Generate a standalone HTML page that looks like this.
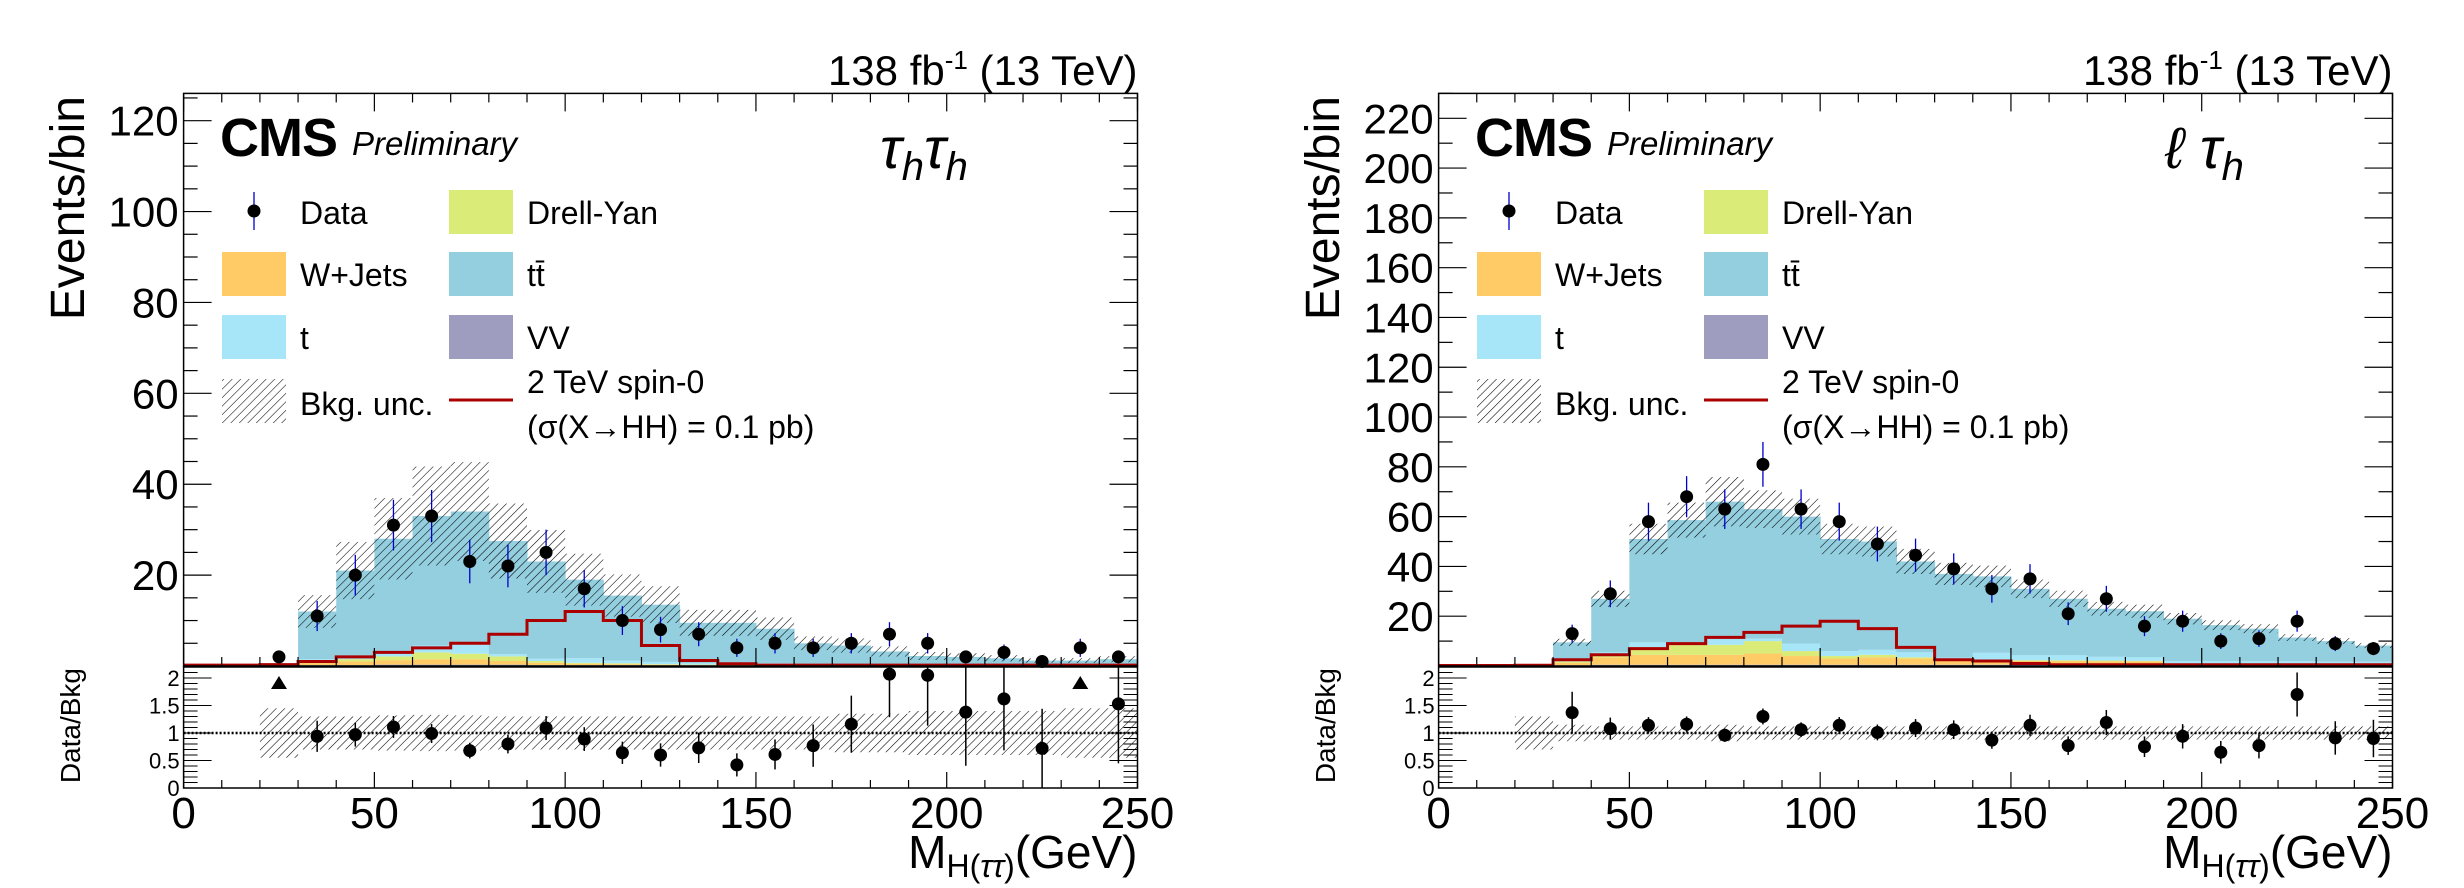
<!DOCTYPE html>
<html><head><meta charset="utf-8"><style>
html,body{margin:0;padding:0;background:#fff}
svg{display:block;font-family:"Liberation Sans",sans-serif}
</style></head><body>
<svg id="chart" width="2464" height="888" viewBox="0 0 2464 888" xmlns="http://www.w3.org/2000/svg">
<defs>
<pattern id="hatch" patternUnits="userSpaceOnUse" width="6" height="6" patternTransform="rotate(45)">
<line x1="0" y1="0" x2="0" y2="6" stroke="#000" stroke-width="1.1"/>
</pattern>
</defs>
</svg>
<script>
// ---- data: tau_h tau_h channel (bins 0-250, width 10) ----
const binEdgesStep = 10;
const L_data = [0,0,2,11,20,31,33,23,22,25,17,10,8,7,4,5,4,5,7,5,2,3,1,4,2];
const L_vv = [0,0,0.1,0.2,0.2,0.3,0.3,0.3,0.3,0.2,0.2,0.2,0.1,0.1,0.1,0.1,0.1,0.1,0.1,0.1,0.1,0.1,0.1,0.1,0.1];
const L_wj = [0,0,0.1,0.5,0.8,1.0,1.2,1.2,0.8,0.5,0.3,0.2,0.2,0.1,0.1,0.1,0.1,0.1,0,0,0,0,0,0,0];
const L_dy = [0,0,0.1,0.3,0.5,0.8,1.5,1.2,1.0,0.4,0.2,0.2,0.1,0.1,0.1,0.1,0,0,0,0,0,0,0,0,0];
const L_t = [0,0,0,0.5,0.7,1.0,1.5,2.0,0.5,0.5,1.0,0.6,0.5,0.3,0.3,0.3,0.3,0.2,0.2,0.2,0.2,0.2,0.1,0.1,0.1];
const L_tt = [0,0,0,10.5,18.8,24.9,28.5,29.3,24.9,21.4,17.3,14.3,12.6,8.9,8.9,7.6,4.5,4.1,2.9,1.9,1.7,1.4,1.0,1.0,1.3];
const L_unc = [0,0,0.45,0.3,0.3,0.32,0.33,0.32,0.3,0.3,0.3,0.3,0.3,0.3,0.3,0.3,0.3,0.35,0.35,0.4,0.4,0.4,0.4,0.45,0.45];
const L_sig = [0.2,0.2,0.3,1,2,3,4,5,7,10,12,10,4.5,1.2,0.5,0.2,0.2,0.2,0.2,0.2,0.2,0.2,0.2,0.2,0.2];
const L_ratio = [0,0,6.7,0.94,0.97,1.11,0.99,0.68,0.8,1.09,0.89,0.64,0.6,0.73,0.42,0.61,0.77,1.16,2.07,2.05,1.38,1.62,0.72,3.3,1.53];
const L_yticks = [20,40,60,80,100,120];
// ---- data: l tau_h channel ----
const R_data = [0,0,0,13,29,58,68,63,81,63,58,49,44.5,39,31,35,21,27,16,18,10,11,18,9,7];
const R_vv = [0,0,0.1,0.3,0.5,0.5,0.5,0.5,0.5,0.5,0.5,0.5,0.5,0.5,0.5,0.5,0.5,0.4,0.4,0.3,0.3,0.3,0.3,0.3,0.3];
const R_wj = [0,0,0.2,1,3,4,4,4,4.5,3.5,2.5,3,2.5,1.5,1.5,1.5,1.5,1.5,1.5,0.5,0.5,0.5,0.5,0.5,0.5];
const R_dy = [0,0,0.1,0.5,1,3,4,4,5,2,1,1,0.5,0.3,0.3,0.3,0.3,0.3,0.2,0.2,0.2,0.1,0.1,0.1,0.1];
const R_t = [0,0,0.1,0.5,1,2,1,3,1,3,2,2,2,1,3,2,2,1.5,1.5,1,1,1,1,0.8,0.8];
const R_tt = [0,0,0,7.2,21.5,41.5,49.1,54.5,52,51,45,43.5,36.5,33.7,30.7,26.7,22.7,19.3,18.4,17,14.4,13.1,9.5,8.3,6.5];
const R_unc = [0,0,0.3,0.15,0.12,0.12,0.12,0.15,0.12,0.12,0.12,0.12,0.12,0.12,0.12,0.12,0.12,0.12,0.12,0.12,0.12,0.12,0.12,0.12,0.12];
const R_sig = [0.2,0.2,0.3,2.5,4.5,7,9,11.5,13.5,16,18,15,7.5,2.5,2,1,0.5,0.5,0.5,0.5,0.5,0.5,0.5,0.5,0.5];
const R_ratio = [0,0,0,1.37,1.08,1.14,1.16,0.96,1.3,1.06,1.14,1.01,1.09,1.06,0.87,1.14,0.77,1.19,0.75,0.94,0.65,0.77,1.7,0.91,0.9];
const R_yticks = [20,40,60,80,100,120,140,160,180,200,220];
const xTicks = [0,50,100,150,200,250];
const ratioTicks = [0,0.5,1,1.5,2];
const ratioTickLabels = ["0","0.5","1","1.5","2"];

const NS = "http://www.w3.org/2000/svg";
const svg = document.getElementById('chart');
function mk(tag, attrs, parent, text){
  const e = document.createElementNS(NS, tag);
  for (const k in attrs) e.setAttribute(k, attrs[k]);
  if (text !== undefined) e.textContent = text;
  (parent||svg).appendChild(e);
  return e;
}
const COL = {vv:"#9f9dbf", wj:"#fecb66", dy:"#dbeb78", t:"#a6e6f8", tt:"#94cfe0"};

function panel(ox, cfg){
  const g = mk('g', {});
  
  
  const X0 = ox + 183.6, X1 = ox + 1137.5, YT = 93.4, YB = 666, RT = 667, RB = 788;
  const xs = v => X0 + (v/250)*(X1-X0);
  const ys = v => YB - v*(YB-YT)/cfg.ymax;
  const rs = v => RB - v*(RB-RT)/2.2;
  const n = cfg.data.length;
  const comps = [["vv",cfg.vv],["wj",cfg.wj],["dy",cfg.dy],["t",cfg.t],["tt",cfg.tt]];
  for (let i=0;i<n;i++){
    let cum = 0;
    for (const [k,arr] of comps){
      const v = arr[i]; if (v<=0) continue;
      const r = mk('rect', {x:xs(i*10), y:ys(cum+v), width:xs(i*10+10)-xs(i*10)+0.5, height:ys(cum)-ys(cum+v), fill:COL[k]}, g);
      
      
      cum += v;
    }
    if (cum>0 && cfg.unc[i]>0){
      const u = cum*cfg.unc[i];
      const h = mk('rect', {x:xs(i*10), y:ys(Math.min(cum+u,cfg.ymax)), width:xs(i*10+10)-xs(i*10), height:ys(Math.max(cum-u,0))-ys(Math.min(cum+u,cfg.ymax)), fill:"url(#hatch)"}, g);
      
      
      const rh = mk('rect', {x:xs(i*10), y:rs(1+cfg.unc[i]), width:xs(i*10+10)-xs(i*10), height:rs(1-cfg.unc[i])-rs(1+cfg.unc[i]), fill:"url(#hatch)"}, g);
      
      
    }
  }
  let d = "";
  for (let i=0;i<n;i++){
    d += (i===0?"M":"L")+xs(i*10)+","+ys(cfg.sig[i])+" L"+xs(i*10+10)+","+ys(cfg.sig[i])+" ";
  }
  const sp = mk('path', {d:d, fill:"none", stroke:"#aa0000", "stroke-width":3}, g);
  
  
  for (let i=0;i<n;i++){
    const v = cfg.data[i]; if (v<=0) continue;
    const e = Math.sqrt(v), cx = xs(i*10+5);
    const l = mk('line', {x1:cx, x2:cx, y1:ys(v+e), y2:ys(Math.max(v-e,0)), stroke:"#0000cc", "stroke-width":1.3}, g);
    
    
    const c = mk('circle', {cx:cx, cy:ys(v), r:6.5, fill:"#000"}, g);
    
    
  }
  const dl = mk('line', {x1:X0, x2:X1, y1:rs(1), y2:rs(1), stroke:"#000", "stroke-width":2.5, "stroke-dasharray":"2,2"}, g);
  
  
  for (let i=0;i<n;i++){
    const r = cfg.ratio[i]; if (r<=0) continue;
    const cx = xs(i*10+5);
    if (r>2.2){
      const tri = mk('polygon', {points:`${cx},${RT+9} ${cx-8},${RT+22} ${cx+8},${RT+22}`, fill:"#000"}, g);
      
      
      continue;
    }
    const er = r/Math.sqrt(cfg.data[i]);
    const l = mk('line', {x1:cx, x2:cx, y1:rs(Math.min(r+er,2.2)), y2:rs(Math.max(r-er,0)), stroke:"#000", "stroke-width":1.5}, g);
    
    
    const c = mk('circle', {cx:cx, cy:rs(r), r:6.5, fill:"#000"}, g);
    
    
  }
  const f1 = mk('rect', {x:X0, y:YT, width:X1-X0, height:YB-YT, fill:"none", stroke:"#000", "stroke-width":1.5}, g);
   
  const f2 = mk('rect', {x:X0, y:RT, width:X1-X0, height:RB-RT, fill:"none", stroke:"#000", "stroke-width":1.5}, g);
   
  for (let v=0; v<=250; v+=10){
    const big = v%50===0, L = big?18:9, L2 = big?10:5;
    mk('line', {x1:xs(v), x2:xs(v), y1:YB, y2:YB-L, stroke:"#000", "stroke-width":1.2}, g);
    mk('line', {x1:xs(v), x2:xs(v), y1:YT, y2:YT+L, stroke:"#000", "stroke-width":1.2}, g);
    mk('line', {x1:xs(v), x2:xs(v), y1:RB, y2:RB-L2*1.6, stroke:"#000", "stroke-width":1.2}, g);
  }
  for (const v of xTicks){
    const t = mk('text', {x:xs(v), y:828, "font-size":44, "text-anchor":"middle"}, g, String(v));
     
  }
  for (let v=0; v<=cfg.ymax; v+=cfg.minor){
    const big = Math.abs(v/20-Math.round(v/20))<1e-6, L = big?28:14;
    mk('line', {x1:X0, x2:X0+L, y1:ys(v), y2:ys(v), stroke:"#000", "stroke-width":1.2}, g);
    mk('line', {x1:X1, x2:X1-L, y1:ys(v), y2:ys(v), stroke:"#000", "stroke-width":1.2}, g);
  }
  for (const v of cfg.yticks){
    const t = mk('text', {x:X0-5, y:ys(v)+15, "font-size":42, "text-anchor":"end"}, g, String(v));
     
  }
  for (let v=0; v<=2.2; v+=0.1){
    const big = Math.abs(v*2-Math.round(v*2))<1e-6, L = big?28:14;
    mk('line', {x1:X0, x2:X0+L, y1:rs(v), y2:rs(v), stroke:"#000", "stroke-width":1}, g);
    mk('line', {x1:X1, x2:X1-L, y1:rs(v), y2:rs(v), stroke:"#000", "stroke-width":1}, g);
  }
  ratioTicks.forEach((v,i)=>{
    const t = mk('text', {x:X0-4, y:rs(v)+8, "font-size":22, "text-anchor":"end"}, g, ratioTickLabels[i]);
     
  });
  const yt = mk('text', {transform:`translate(${ox+84},96) rotate(-90)`, "font-size":48, "text-anchor":"end"}, g, "Events/bin");
   
  const rt = mk('text', {transform:`translate(${ox+80},668) rotate(-90)`, "font-size":28, "text-anchor":"end"}, g, "Data/Bkg");
   
  const xt = mk('text', {x:X1, y:868, "font-size":46, "text-anchor":"end"}, g);
  xt.innerHTML = 'M<tspan font-size="32" dy="9">H(<tspan font-style="italic">ττ</tspan>)</tspan><tspan dy="-9">(GeV)</tspan>';
   
  const lum = mk('text', {x:X1, y:85, "font-size":42, "text-anchor":"end"}, g);
  lum.innerHTML = '138 fb<tspan font-size="26" dy="-16">-1</tspan><tspan dy="16"> (13 TeV)</tspan>';
   
  const cms = mk('text', {x:ox+220, y:156, "font-size":54, "font-weight":"bold", "letter-spacing":-1}, g, "CMS");
   
  const pre = mk('text', {x:ox+352, y:155, "font-size":33, "font-style":"italic"}, g, "Preliminary");
   
  const ch = mk('text', {x:ox+cfg.chx, y:168, "font-size":58, "font-style":"italic"}, g);
  ch.innerHTML = cfg.chan;
   
  const lg = mk('g', {}, g);
   
  mk('line', {x1:ox+254, x2:ox+254, y1:192, y2:230, stroke:"#0000cc", "stroke-width":1.3}, lg);
  mk('circle', {cx:ox+254, cy:211, r:6.5, fill:"#000"}, lg);
  const ents = [
    [0,0,null,"Data"],[1,0,COL.dy,"Drell-Yan"],
    [0,1,COL.wj,"W+Jets"],[1,1,COL.tt,"tt̄"],
    [0,2,COL.t,"t"],[1,2,COL.vv,"VV"]];
  const rows=[190,252,315,379];
  for (const [c,r,col,txt] of ents){
    const bx = ox + (c? 449:222);
    if (col){ mk('rect', {x:bx, y:rows[r], width:64, height:44, fill:col}, lg); }
    const t = mk('text', {x:bx+78, y:rows[r]+34, "font-size":32}, lg, txt);
     
  }
  mk('rect', {x:ox+222, y:379, width:64, height:44, fill:"url(#hatch)"}, lg);
  const bu = mk('text', {x:ox+300, y:415, "font-size":32}, lg, "Bkg. unc.");
   
  mk('line', {x1:ox+449, x2:ox+513, y1:400, y2:400, stroke:"#aa0000", "stroke-width":3}, lg);
  const s1 = mk('text', {x:ox+527, y:393, "font-size":32}, lg, "2 TeV spin-0");
   
  const s2 = mk('text', {x:ox+527, y:438, "font-size":32}, lg, "(σ(X→HH) = 0.1 pb)");
   
}
panel(0, {name:"tautau-panel", data:L_data, vv:L_vv, wj:L_wj, dy:L_dy, t:L_t, tt:L_tt, unc:L_unc, sig:L_sig, ratio:L_ratio, yticks:L_yticks, ymax:126, minor:5, chx:880, chan:'τ<tspan font-size="40" dy="12">h</tspan><tspan dy="-12">τ</tspan><tspan font-size="40" dy="12">h</tspan>'});
panel(1255, {name:"ltau-panel", data:R_data, vv:R_vv, wj:R_wj, dy:R_dy, t:R_t, tt:R_tt, unc:R_unc, sig:R_sig, ratio:R_ratio, yticks:R_yticks, ymax:230, minor:10, chx:910, chan:'ℓ τ<tspan font-size="40" dy="12">h</tspan>'});
</script>
</body></html>
